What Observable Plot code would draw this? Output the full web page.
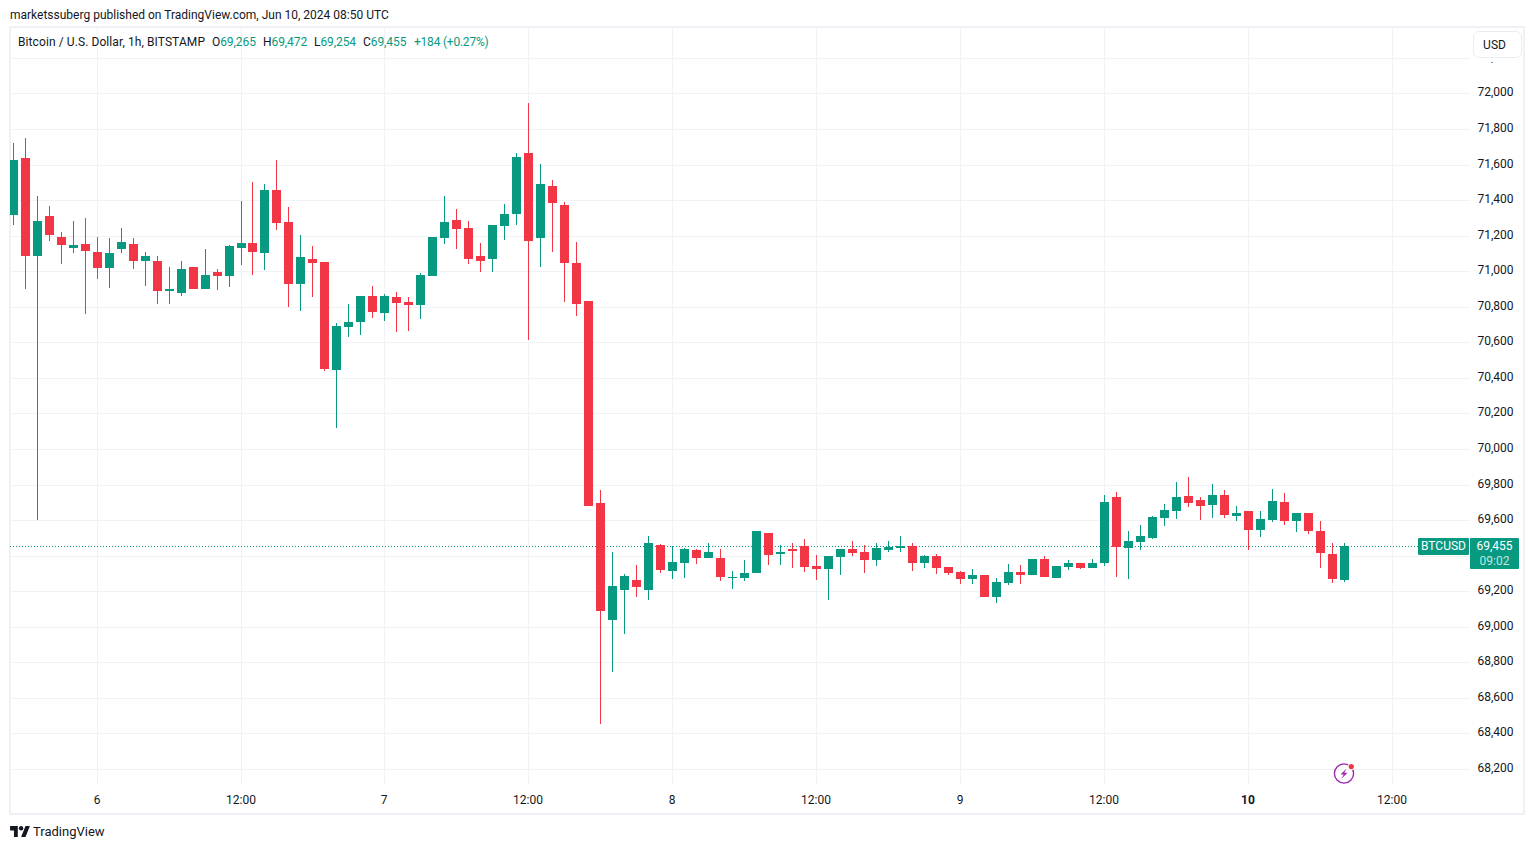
<!DOCTYPE html>
<html>
<head>
<meta charset="utf-8">
<script src="https://cdn.jsdelivr.net/npm/d3@7"></script>
<script src="https://cdn.jsdelivr.net/npm/@observablehq/plot@0.6"></script>
<style>
html,body{margin:0;padding:0;background:#fff;overflow:hidden}
body{font-family:Roboto,sans-serif;font-size:12px;color:#131722}
#page{position:relative;width:1534px;height:849px;overflow:hidden}
#frame{position:absolute;left:9px;top:26px;width:1512px;height:785px;border:2px solid #eff1f6}
#chart{position:absolute;left:0;top:26px}
#chart svg{display:block;background:transparent}
.abs{position:absolute;white-space:nowrap}
.g{color:#089981}
.lg{top:34px;line-height:16px;letter-spacing:-0.08px}
</style>
</head>
<body>
<div id="page">
  <div id="frame"></div>
  <div id="chart"></div>
  <div class="abs" style="left:10px;top:7px;line-height:16px">marketssuberg published on TradingView.com, Jun 10, 2024 08:50 UTC</div>
  <div class="abs" style="left:18px;top:34px;line-height:16px;letter-spacing:0.09px">Bitcoin / U.S. Dollar, 1h, BITSTAMP</div>
  <div class="abs lg" style="left:212px">O<span class="g">69,265</span></div>
  <div class="abs lg" style="left:263px">H<span class="g">69,472</span></div>
  <div class="abs lg" style="left:314px">L<span class="g">69,254</span></div>
  <div class="abs lg" style="left:363px">C<span class="g">69,455</span></div>
  <div class="abs g lg" style="left:414px;letter-spacing:-0.22px">+184 (+0.27%)</div>
  <div class="abs" style="left:1471px;top:28px;width:52px;height:34px;background:#fff"></div>
  <div class="abs" style="left:1473px;top:31px;width:47px;height:25px;border:1px solid #e9ecf2;border-radius:6px;background:#fff;text-align:center;line-height:26px;text-indent:-6px">USD</div>
  <div class="abs" style="left:1418px;top:538px;width:51px;height:17px;background:#089981;color:#fff;text-align:center;line-height:17px;border-radius:1px">BTCUSD</div>
  <div class="abs" style="left:1470px;top:538px;width:49px;height:17px;background:#089981;border-radius:1px 1px 0 0;color:#fff;text-align:center;line-height:17px">69,455</div>
  <div class="abs" style="left:1470px;top:555px;width:49px;height:14px;background:#089981;border-radius:0 0 1px 1px;color:#c4e5de;text-align:center;line-height:12px">09:02</div>
  <svg class="abs" style="left:1332px;top:762px" width="24" height="24" viewBox="0 0 24 24">
    <circle cx="12" cy="11.5" r="9.6" fill="none" stroke="#9c27b0" stroke-width="1.4"/>
    <path d="M14.5 6.5 L8.5 12.5 H11.8 L9.2 17 L15.5 10.8 H12.3 Z" fill="#9c27b0"/>
    <circle cx="19.5" cy="4.5" r="3.6" fill="#fff"/>
    <circle cx="19.3" cy="4.6" r="2.6" fill="#f23645"/>
  </svg>
  <svg class="abs" style="left:10px;top:826px" width="20" height="11" viewBox="0 0 36 20">
    <path d="M14 20H7V8H0V0h14zM28 20h-8L28 0h8z" fill="#131722"/><circle cx="20" cy="4" r="4" fill="#131722"/>
  </svg>
  <div class="abs" style="left:33px;top:824px;font-size:13px;line-height:16px">TradingView</div>
</div>
<script>
const startMs = Date.UTC(2024, 5, 5, 17);
const hourMs = 3600e3;

const opens = [71320,71641,71090,71315,71196,71135,71157,71112,71022,71129,71157,71061,71061,70892,70881,71028,70904,71000,70977,71135,71163,71106,71461,71281,70932,71073,71056,70448,70690,70718,70865,70769,70859,70831,70814,70977,71191,71292,71247,71090,71073,71259,71326,71669,71191,71484,71377,71050,70836,69699,69040,69209,69265,69209,69462,69316,69361,69434,69389,69389,69276,69276,69305,69530,69411,69440,69457,69344,69327,69395,69440,69423,69378,69434,69445,69457,69361,69400,69338,69310,69271,69293,69170,69248,69310,69293,69383,69277,69338,69361,69333,69362,69733,69446,69480,69502,69615,69654,69739,69716,69688,69744,69626,69654,69547,69604,69705,69598,69643,69542,69412,69265];
const highs = [71726,71754,71427,71371,71225,71287,71303,71196,71191,71247,71191,71112,71090,71028,71061,71028,71129,71016,71151,71399,71506,71495,71630,71365,71208,71146,71056,70713,70820,70865,70921,70876,70887,70859,70994,71197,71427,71354,71287,71163,71264,71382,71669,71951,71608,71517,71394,71169,70836,69772,69423,69299,69350,69513,69468,69457,69445,69440,69473,69440,69316,69378,69541,69530,69462,69473,69496,69406,69400,69440,69485,69462,69473,69485,69513,69474,69406,69412,69338,69316,69327,69293,69277,69355,69350,69383,69400,69344,69378,69361,69383,69744,69761,69542,69575,69626,69694,69817,69846,69733,69806,69772,69682,69654,69654,69778,69756,69643,69643,69598,69474,69472];
const lows = [71264,70904,69603,71174,71045,71106,70763,70960,70909,71106,71016,70921,70819,70819,70864,70904,70904,70898,70915,71039,70983,71011,71236,70802,70780,70859,70442,70122,70634,70645,70741,70724,70662,70668,70735,70977,71157,71129,71045,70999,70999,71180,71264,70617,71028,71112,70831,70752,69684,68455,68747,68961,69169,69153,69305,69271,69276,69355,69389,69260,69214,69260,69305,69350,69350,69333,69310,69265,69153,69293,69400,69305,69344,69423,69423,69316,69333,69299,69293,69243,69243,69170,69136,69237,69243,69293,69282,69277,69322,69327,69333,69345,69283,69272,69435,69497,69570,69609,69677,69604,69615,69615,69598,69435,69508,69592,69575,69536,69525,69333,69249,69254];
const closes = [71630,71090,71287,71208,71151,71151,71118,71022,71106,71168,71061,71090,70892,70904,71016,70904,70983,70977,71146,71163,71112,71461,71275,70932,71084,71050,70454,70696,70718,70865,70775,70865,70825,70814,70983,71197,71281,71242,71073,71062,71264,71326,71647,71174,71495,71388,71050,70820,69684,69091,69231,69288,69226,69473,69321,69366,69440,69389,69423,69282,69282,69305,69541,69406,69423,69428,69338,69327,69400,69440,69417,69378,69445,69451,69457,69361,69400,69333,69305,69271,69293,69170,69254,69310,69293,69383,69282,69344,69361,69333,69361,69705,69452,69485,69514,69620,69660,69733,69699,69682,69744,69632,69643,69547,69609,69711,69598,69643,69542,69418,69272,69455];

const priceTicks = [68200,68400,68600,68800,69000,69200,69400,69600,69800,70000,70200,70400,70600,70800,71000,71200,71400,71600,71800,72000,72200];
const hiddenPriceLabels = [69400]; // sits behind the last-price tag in the reference
const timeTicks = ["2024-06-06T00:00Z","2024-06-06T12:00Z","2024-06-07T00:00Z","2024-06-07T12:00Z","2024-06-08T00:00Z","2024-06-08T12:00Z","2024-06-09T00:00Z","2024-06-09T12:00Z","2024-06-10T00:00Z","2024-06-10T12:00Z"];
const timeLabels = ["6","12:00","7","12:00","8","12:00","9","12:00","10","12:00"];
const lastClose = 69455;

const green = "#089981", red = "#f23645", gridColor = "#f1f2f6";
const nudge = 3; // sub-pixel calibration of the readings against the price grid
const candles = opens.map((o, i) => ({
  t: new Date(startMs + i * hourMs),
  o: o - nudge, h: highs[i] - nudge, l: lows[i] - nudge, c: closes[i] - nudge,
  up: closes[i] >= o
}));
const ups = candles.filter(d => d.up);
const downs = candles.filter(d => !d.up);
const tickDates = timeTicks.map(s => new Date(s));
const boldTicks = tickDates.filter((d, i) => timeLabels[i] === "10");
const plainTicks = tickDates.filter((d, i) => timeLabels[i] !== "10");
const labelOf = d => timeLabels[tickDates.findIndex(e => +e === +d)];

const chart = Plot.plot({
  width: 1534, height: 789,
  marginLeft: 10, marginRight: 64, marginTop: 2, marginBottom: 30,
  style: {fontFamily: "Roboto, sans-serif", fontSize: "12px", color: "#131722", background: "transparent"},
  x: {type: "utc", domain: [new Date(startMs - 0.2248 * hourMs), new Date(startMs + 121.544 * hourMs)], range: [10, 1470], round: true},
  y: {type: "linear", domain: [68200, 72000], range: [743, 67.44], round: true},
  marks: [
    Plot.gridX(tickDates, {stroke: gridColor, strokeOpacity: 1}),
    Plot.gridY(priceTicks, {stroke: gridColor, strokeOpacity: 1}),
    Plot.axisY(priceTicks.filter(p => !hiddenPriceLabels.includes(p)), {anchor: "right", tickSize: 0, tickPadding: 7, tickFormat: d3.format(","), label: null, dy: -1, fill: "#131722"}),
    Plot.axisX(plainTicks, {anchor: "bottom", tickSize: 0, tickPadding: 10, tickFormat: labelOf, label: null, dx: -0.5, fill: "#131722"}),
    Plot.axisX(boldTicks, {anchor: "bottom", tickSize: 0, tickPadding: 10, tickFormat: labelOf, label: null, dx: -0.5, fontWeight: "bold", fill: "#131722"}),
    Plot.ruleY([lastClose], {stroke: green, strokeWidth: 1, strokeDasharray: "1,2"}),
    Plot.ruleX(ups, {x: "t", y1: "l", y2: "h", stroke: green, strokeWidth: 1}),
    Plot.ruleX(downs, {x: "t", y1: "l", y2: "h", stroke: red, strokeWidth: 1}),
    Plot.ruleX(ups, {x: "t", y1: "o", y2: "c", stroke: green, strokeWidth: 9, clip: true}),
    Plot.ruleX(downs, {x: "t", y1: "o", y2: "c", stroke: red, strokeWidth: 9, clip: true})
  ]
});
document.getElementById("chart").appendChild(chart);
</script>
</body>
</html>
